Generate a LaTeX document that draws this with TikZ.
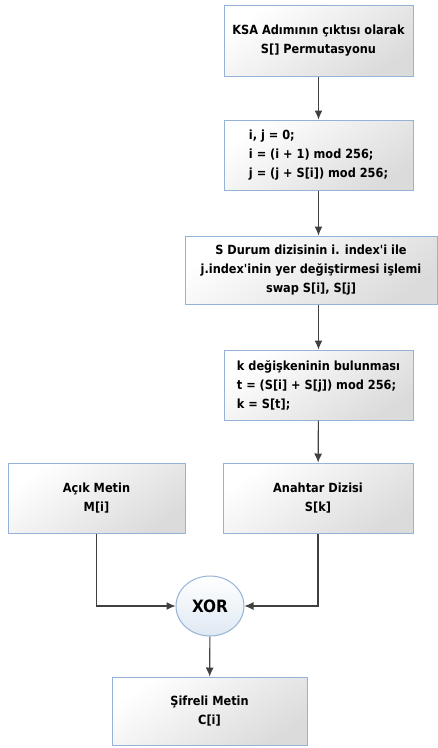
\documentclass[tikz,border=0pt]{standalone}
\usepackage{fontspec}
\setmainfont{DejaVu Sans Condensed}
\usetikzlibrary{arrows.meta,shapes.geometric}
\definecolor{kenar}{HTML}{95B3D7}
\definecolor{okrenk}{HTML}{404040}
\tikzset{
	kutu/.style={draw=kenar, line width=1pt, top color=white, bottom color=black!14, shading angle=35,
		minimum height=70pt, inner sep=1pt, align=center, font=\bfseries\fontsize{12.6}{19}\selectfont},
	halka/.style={ellipse, draw=kenar, line width=1pt, top color=white, bottom color=kenar!30,
		minimum width=68pt, minimum height=60pt, inner sep=0pt, font=\bfseries\fontsize{17}{20}\selectfont},
	ok/.style={draw=okrenk, line width=1.1pt, -{Latex[length=9pt,width=8pt]}}
}

\begin{document}
\begin{tikzpicture}[x=1pt,y=-1pt]
		\useasboundingbox (0,0) rectangle (438,748);
		
		% akis kutulari
		\node[kutu, minimum width=189pt, minimum height=71pt] (ksa) at (318.5,40.5) {KSA Adımının çıktısı olarak\\S[] Permutasyonu};
		\node[kutu, minimum width=189pt, align=left] (baslat) at (318.5,155) {i, j = 0;\\i = (i + 1) mod 256;\\j = (j + S[i]) mod 256;};
		\node[kutu, minimum width=252pt, minimum height=68pt] (takas) at (311,270) {S Durum dizisinin i. index\textquotesingle i ile\\j.index\textquotesingle inin yer değiştirmesi işlemi\\swap S[i], S[j]};
		\node[kutu, minimum width=189pt, align=left] (kdeg) at (318.5,385) {k değişkeninin bulunması\\t = (S[i] + S[j]) mod 256;\\k = S[t];};
		
		\node[kutu, minimum width=190pt] (anahtar) at (318,498) {Anahtar Dizisi\\S[k]};
		\node[kutu, minimum width=177pt] (acik) at (96.5,498) {Açık Metin\\M[i]};
		
		\node[halka] (xor) at (210,606) {XOR};
		
		\node[kutu, minimum width=195pt, minimum height=68pt] (sifreli) at (209.5,711) {Şifreli Metin\\C[i]};
		
		% baglantilar
		\draw[ok] (ksa) -- (baslat);
		\draw[ok] (baslat.south) -- (baslat.south |- takas.north);
		\draw[ok] (baslat.south |- takas.south) -- (kdeg.north);
		\draw[ok] (kdeg) -- (anahtar);
		\draw[ok] (acik.south) |- (xor.west);
		\draw[ok] (anahtar.south) |- (xor.east);
		\draw[ok] (xor) -- (sifreli);
		
	\end{tikzpicture}
\end{document}
